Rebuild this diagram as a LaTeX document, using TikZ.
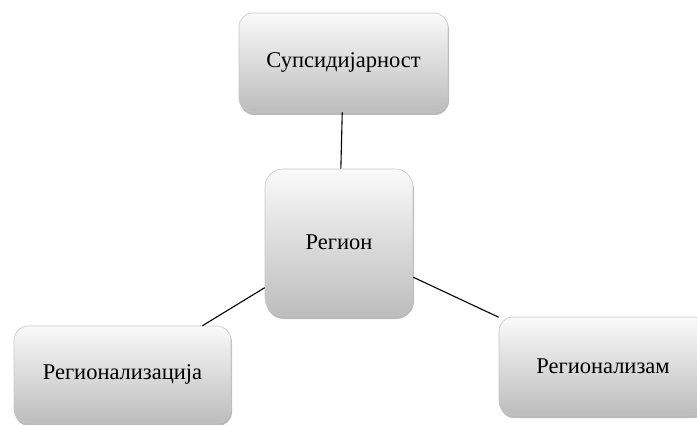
\documentclass[tikz,border=0pt]{standalone}
\usepackage{fontspec}
\setmainfont{Liberation Serif}
\usetikzlibrary{shadows}
\begin{document}
\begin{tikzpicture}[x=1pt,y=-1pt,
  box/.style={rectangle, rounded corners=14pt, draw=black!22, line width=0.6pt,
    top color=black!2, bottom color=black!26,
    drop shadow={shadow xshift=1pt, shadow yshift=-3pt, opacity=0.45, fill=black!60},
    font=\fontsize{22.5}{27}\selectfont, text=black, inner sep=0pt},
  link/.style={draw=black, line width=1.1pt}]
\useasboundingbox (0,0) rectangle (697,425);
\node[box, minimum width=209pt, minimum height=99pt] (s) at (343.5,62.5) {Супсидијарност};
\node[box, minimum width=148pt, minimum height=147pt, rounded corners=18pt] (r) at (339,242.5) {Регион};
\node[box, minimum width=217pt, minimum height=97pt] (l) at (122.5,374.5) {Регионализација};
\node[box, minimum width=208pt, minimum height=98pt] (z) at (603,366) {Регионализам};
\draw[link] (s) -- (r);
\draw[link] (r) -- (l);
\draw[link] (r) -- (z);
\end{tikzpicture}
\end{document}
